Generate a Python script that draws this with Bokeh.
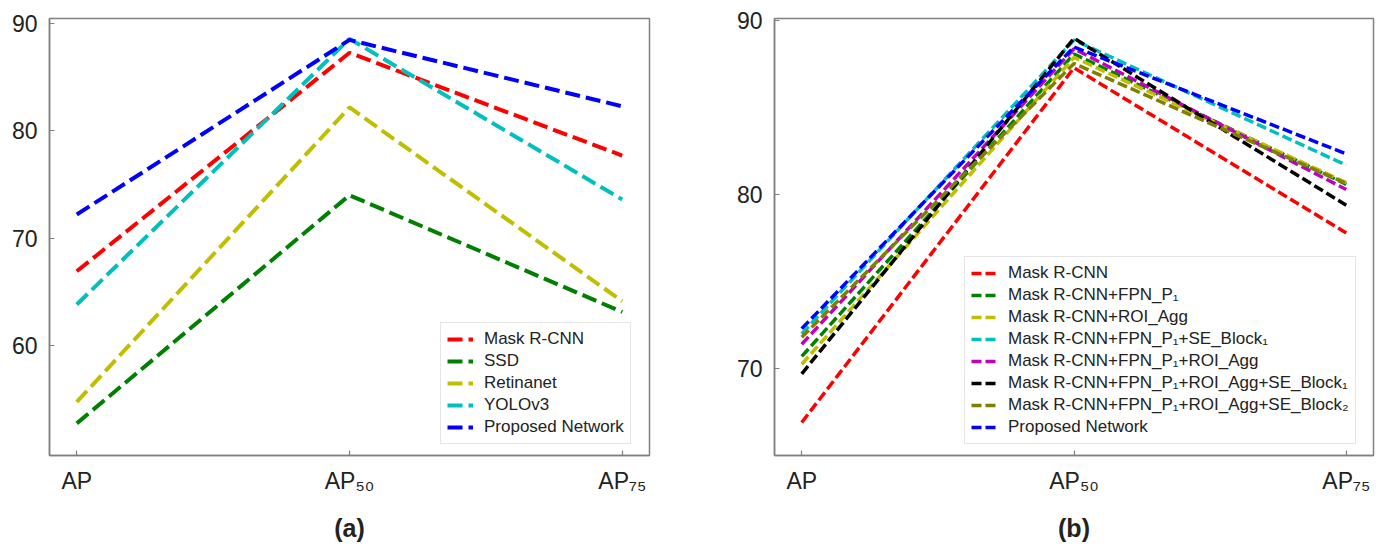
from bokeh.plotting import figure
from bokeh.models import FixedTicker, Legend, LegendItem, Range1d
from bokeh.layouts import row
from bokeh.embed import file_html
from bokeh.resources import INLINE

# ---------------- data ----------------
categories = ["AP", "AP\u2085\u2080", "AP\u2087\u2085"]

# panel (a)
a_names = ["Mask R-CNN", "SSD", "Retinanet", "YOLOv3", "Proposed Network"]
a_mask_rcnn = [66.9, 87.3, 77.7]
a_ssd = [52.7, 74.0, 63.1]
a_retinanet = [54.7, 82.2, 64.1]
a_yolov3 = [63.8, 88.6, 73.6]
a_proposed = [72.2, 88.5, 82.3]
a_colors = ["#ff0000", "#008000", "#bfbf00", "#00bfbf", "#0000ff"]
a_yticks = [60, 70, 80, 90]

# panel (b)
b_names = [
    "Mask R-CNN",
    "Mask R-CNN+FPN_P\u2081",
    "Mask R-CNN+ROI_Agg",
    "Mask R-CNN+FPN_P\u2081+SE_Block\u2081",
    "Mask R-CNN+FPN_P\u2081+ROI_Agg",
    "Mask R-CNN+FPN_P\u2081+ROI_Agg+SE_Block\u2081",
    "Mask R-CNN+FPN_P\u2081+ROI_Agg+SE_Block\u2082",
    "Proposed Network",
]
b_mask_rcnn = [66.9, 87.3, 77.8]
b_fpn = [70.7, 88.1, 80.6]
b_roi = [70.25, 87.9, 80.7]
b_fpn_se1 = [72.0, 88.9, 81.7]
b_fpn_roi = [71.4, 88.4, 80.3]
b_fpn_roi_se1 = [69.7, 89.0, 79.4]
b_fpn_roi_se2 = [71.8, 87.55, 80.65]
b_proposed = [72.3, 88.5, 82.35]
b_colors = ["#ff0000", "#008000", "#bfbf00", "#00bfbf", "#bf00bf", "#000000", "#808000", "#0000ff"]
b_yticks = [70, 80, 90]

FONT = "Liberation Sans"
FRAME = "#808080"
TXT = "#222222"


def make_panel(names, series, colors, yticks, yrange, caption, lw, dash,
               width, bl, br, legend_loc):
    p = figure(width=width, height=544, output_backend="svg", toolbar_location=None,
               x_range=Range1d(-0.1, 2.1), y_range=Range1d(*yrange),
               min_border_left=bl, min_border_right=br, min_border_top=18,
               min_border_bottom=86)
    xs = list(range(len(categories)))
    items = []
    for name, ys, c in zip(names, series, colors):
        r = p.line(xs, ys, line_color=c, line_width=lw, line_dash=dash)
        items.append(LegendItem(label=name, renderers=[r]))
    p.grid.visible = False
    p.background_fill_color = "white"
    p.border_fill_color = "white"
    p.outline_line_color = FRAME
    p.outline_line_width = 1.5

    p.xaxis.ticker = FixedTicker(ticks=xs)
    p.xaxis.major_label_overrides = {i: c for i, c in enumerate(categories)}
    p.yaxis.ticker = FixedTicker(ticks=yticks)
    for ax in (p.xaxis, p.yaxis):
        ax.axis_line_color = FRAME
        ax.axis_line_width = 1.5
        ax.major_tick_line_color = FRAME
        ax.major_tick_line_width = 1.2
        ax.major_tick_in = 5
        ax.major_tick_out = 0
        ax.minor_tick_line_color = None
        ax.major_label_text_font = FONT
        ax.major_label_text_font_size = "23px"
        ax.major_label_text_color = TXT
        ax.major_label_standoff = 12
    p.xaxis.axis_label = caption
    p.xaxis.axis_label_text_font = FONT
    p.xaxis.axis_label_text_font_style = "bold"
    p.xaxis.axis_label_text_font_size = "25px"
    p.xaxis.axis_label_text_color = TXT
    p.xaxis.axis_label_standoff = 17

    legend = Legend(items=items, location=legend_loc)
    legend.label_text_font = FONT
    legend.label_text_font_size = "17px"
    legend.label_text_color = TXT
    legend.glyph_width = 26
    legend.glyph_height = 20
    legend.label_height = 20
    legend.spacing = 2
    legend.padding = 6
    legend.label_standoff = 11
    legend.border_line_color = "#cccccc"
    legend.border_line_width = 1.5
    legend.background_fill_color = "white"
    legend.background_fill_alpha = 0.9
    p.add_layout(legend)
    return p


pa = make_panel(a_names, [a_mask_rcnn, a_ssd, a_retinanet, a_yolov3, a_proposed],
                a_colors, a_yticks, (49.7, 90.5), "(a)", 4, "15 6",
                width=708, bl=49, br=59, legend_loc=(391, 11))
pb = make_panel(b_names, [b_mask_rcnn, b_fpn, b_roi, b_fpn_se1, b_fpn_roi,
                          b_fpn_roi_se1, b_fpn_roi_se2, b_proposed],
                b_colors, b_yticks, (65.0, 90.14), "(b)", 3.5, "10 4",
                width=669, bl=66, br=4, legend_loc=(190, 11))

layout = row(pa, pb)
open("out.html", "w").write(file_html(layout, INLINE))
